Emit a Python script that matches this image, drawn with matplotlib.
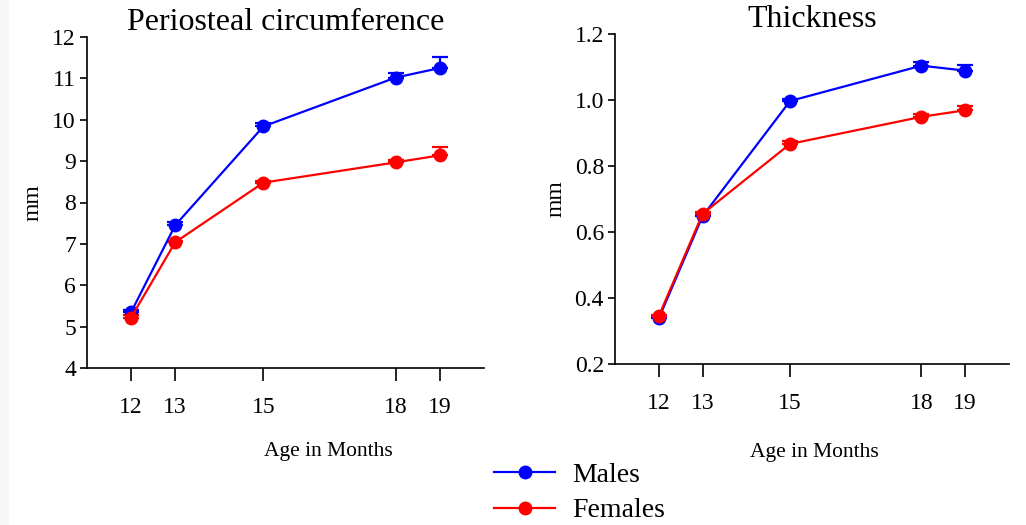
import matplotlib
matplotlib.use("Agg")
import matplotlib.pyplot as plt
from matplotlib.lines import Line2D
from matplotlib.patches import Rectangle

plt.rcParams["font.family"] = ["Liberation Serif", "DejaVu Serif"]

# Ages in months
ages = [12, 13, 15, 18, 19]

# Periosteal circumference (mm), mean and upper SE
circ_males = [5.35, 7.45, 9.84, 11.02, 11.25]
circ_males_err = [0.05, 0.07, 0.08, 0.11, 0.26]
circ_females = [5.22, 7.04, 8.48, 8.97, 9.14]
circ_females_err = [0.07, 0.04, 0.05, 0.05, 0.19]

# Thickness (mm)
thick_males = [0.338, 0.648, 0.997, 1.104, 1.089]
thick_males_err = [0.004, 0.006, 0.005, 0.010, 0.017]
thick_females = [0.345, 0.655, 0.867, 0.949, 0.969]
thick_females_err = [0.005, 0.006, 0.008, 0.008, 0.013]

BLUE = "#0000ff"
RED = "#ff0000"

fig = plt.figure(figsize=(10.26, 5.25), dpi=100)
fig.patches.append(Rectangle((0, 0), 8 / 1026, 1, transform=fig.transFigure,
                             color="#f7f7f7", zorder=-10))

ax1 = fig.add_axes([87 / 1026, 1 - 368 / 525, 397 / 1026, 331 / 525])
ax2 = fig.add_axes([615 / 1026, 1 - 364 / 525, 394 / 1026, 330 / 525])


def draw(ax, males, m_err, females, f_err, ylim, yticks, yfmt, title,
         xlab_xy, title_pad):
    for vals, err, col in ((males, m_err, BLUE), (females, f_err, RED)):
        ax.errorbar(ages, vals, yerr=[[0] * len(err), err], color=col,
                    marker="o", markersize=9, linewidth=1.6,
                    elinewidth=1.6, capsize=6, capthick=1.6)
    ax.set_xlim(11, 20)
    ax.set_ylim(*ylim)
    ax.set_xticks(ages)
    ax.set_yticks(yticks)
    ax.set_yticklabels([yfmt.format(v) for v in yticks])
    ax.spines["top"].set_visible(False)
    ax.spines["right"].set_visible(False)
    ax.spines["left"].set_linewidth(1.2)
    ax.spines["bottom"].set_linewidth(1.2)
    ax.tick_params(axis="x", direction="out", length=9, width=1.2,
                   pad=12, labelsize=17)
    ax.tick_params(axis="y", direction="out", length=5, width=1.2,
                   pad=3, labelsize=17)
    ax.set_ylabel("mm", fontsize=17, labelpad=6)
    ax.set_xlabel("Age in Months", fontsize=15.5)
    ax.xaxis.set_label_coords(*xlab_xy)
    ax.set_title(title, fontsize=23, pad=title_pad)


draw(ax1, circ_males, circ_males_err, circ_females, circ_females_err,
     (4, 12), [4, 5, 6, 7, 8, 9, 10, 11, 12], "{:g}",
     "Periosteal circumference", (0.607, -0.225), 0)
draw(ax2, thick_males, thick_males_err, thick_females, thick_females_err,
     (0.2, 1.2), [0.2, 0.4, 0.6, 0.8, 1.0, 1.2], "{:.1f}", "Thickness",
     (0.505, -0.24), -1)

handles = [
    Line2D([], [], color=BLUE, marker="o", markersize=9, linewidth=1.6),
    Line2D([], [], color=RED, marker="o", markersize=9, linewidth=1.6),
]
fig.legend(handles, ["Males", "Females"], loc="center left",
           bbox_to_anchor=(469 / 1026, 1 - 493 / 525), frameon=False,
           fontsize=20, handlelength=2.2, handletextpad=0.6,
           labelspacing=0.35)

fig.savefig("out.png", dpi=100)
